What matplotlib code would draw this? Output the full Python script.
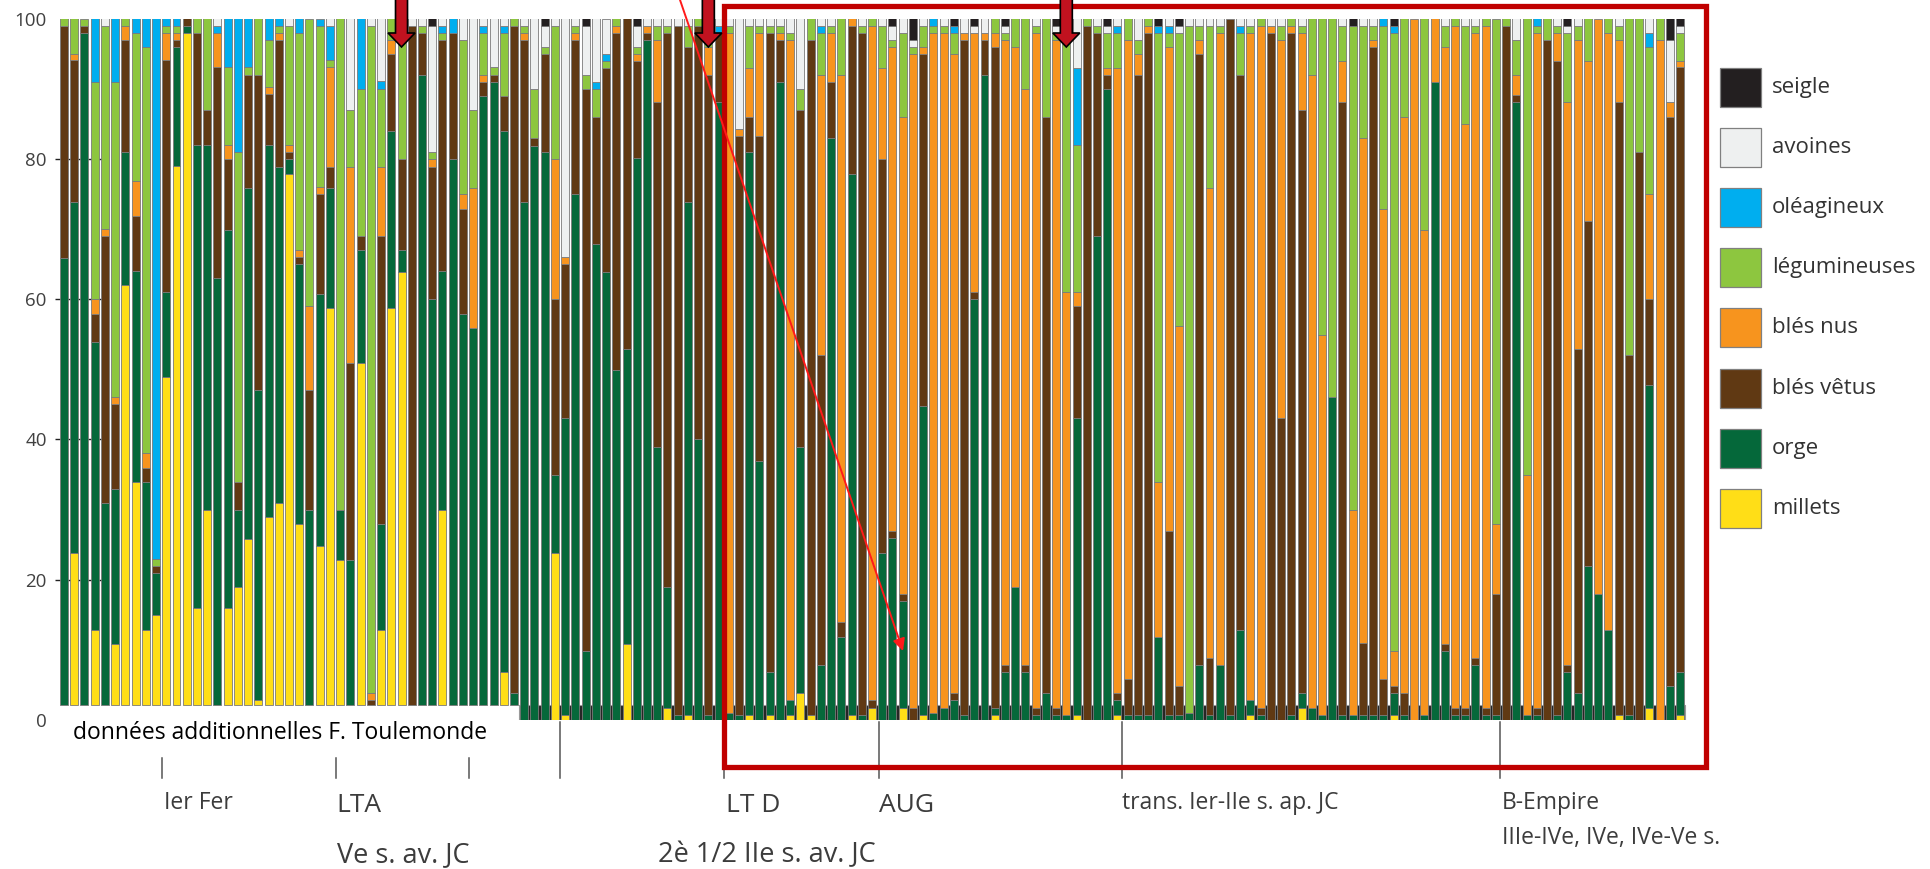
import numpy as np
import matplotlib
matplotlib.use('Agg')
import matplotlib.pyplot as plt
from matplotlib.patches import Rectangle, FancyArrow, FancyArrowPatch

W, H = 1931, 869

# Share of each crop in each sample (%).
# The first 45 samples are the "données additionnelles F. Toulemonde".
n_extra = 45

millets = [0, 21.7, 0, 10.8, 0, 8.7, 59.9, 31.8, 10.8, 12.8,
           46.8, 76.8, 95.9, 13.8, 27.8, 0, 13.8, 16.8, 23.7, 0.7,
           26.8, 28.8, 75.7, 25.8, 0, 22.7, 56.7, 20.7, 0, 48.8,
           0, 10.8, 56.7, 61.8, 0, 0, 0, 27.8, 0, 0,
           0, 0, 0, 4.7, 0,
           0, 0, 0, 23.8, 0.7, 0, 0, 0, 0, 0,
           10.8, 0, 0, 0, 1.7, 0, 0.7, 0, 0, 0,
           0, 0, 0.7, 0, 0.7, 0, 0.7, 3.8, 0.7, 0,
           0, 0, 0.7, 0, 1.7, 0, 0, 1.7, 0, 0.7,
           0, 0, 0, 0, 0, 0, 0.7, 0, 0, 0,
           0, 0, 0, 0, 0.7, 0, 0, 0, 0.7, 0,
           0, 0, 0, 0, 0, 0, 0, 0, 0, 0,
           0, 0.7, 0, 0, 0, 0, 1.7, 0, 0, 0,
           0, 0, 0, 0, 0, 0.7, 0, 0, 0, 0,
           0, 0, 0, 0, 0, 0, 0, 0, 0, 0,
           0, 0, 0, 0, 0, 0, 0, 0.7, 0, 0,
           1.7, 0, 0, 0.7]

orge = [63.7, 50.1, 96, 41, 28.8, 22.1, 19, 30.1, 21, 6,
        12.1, 17, 1, 66.1, 52.1, 60.9, 54, 11, 50.1, 44.2,
        53.1, 48, 2.2, 37.1, 27.8, 36, 17.1, 7.1, 20.7, 16.1,
        0, 15, 25.2, 3.1, 0, 89.8, 57.9, 34.1, 77.9, 55.8,
        53.8, 86.9, 88.9, 77.2, 1.7,
        73.9, 81.8, 81, 11.1, 42.3, 75, 9.8, 67.9, 63.9, 49.9,
        42.1, 80, 97, 38.9, 17.2, 0.7, 73.2, 40, 0.7, 88.1,
        1, 0.7, 80.3, 36.9, 6.1, 90.9, 2.1, 35.1, 0, 7.8,
        83, 11.8, 77.2, 0.7, 0, 23.8, 26, 15.2, 0, 44.1,
        1, 1.7, 2.8, 0.7, 60, 91.9, 1, 6.8, 18.9, 6.8,
        0.7, 3.8, 0.7, 0.7, 42.3, 0, 69, 90, 2.1, 0.7,
        0.7, 0.7, 11.8, 0.7, 0.7, 1, 7.8, 0.7, 7.8, 0.7,
        12.9, 2.1, 0.7, 0, 0, 0.7, 2.1, 1.7, 0.7, 46,
        0.7, 0.7, 0.7, 0.7, 0.7, 3.1, 0.7, 0, 0.7, 90.9,
        9.8, 0.7, 0.7, 7.8, 0.7, 0.7, 0, 88.1, 0.7, 0.7,
        0, 0.7, 6.8, 3.8, 21.9, 17.9, 12.9, 0, 0.7, 0,
        46.1, 0, 4.8, 6.1]

bles_vetus = [33.2, 20.2, 1, 4, 38.1, 12.1, 16, 7.9, 2, 1,
              33.1, 1, 1, 16, 5, 30.1, 10.1, 4, 16.1, 45,
              7.2, 18.1, 1, 1, 17.1, 14.2, 3, 0, 28.1, 2,
              0.7, 41.1, 11, 13, 96.9, 6.1, 18.9, 33, 18, 15,
              0, 2, 1, 5, 95.2,
              23.1, 1.2, 14, 25.1, 22, 22, 80.2, 18.1, 29, 48.1,
              47.1, 13.9, 1, 49.2, 79.1, 98.3, 22.1, 59, 91.2, 9.9,
              0, 82.5, 5, 46.3, 91.2, 6.1, 0, 48.1, 96.3, 44.3,
              7.9, 2.1, 21.1, 97.3, 1.1, 56.2, 1, 1, 1.7, 50.2,
              0, 0, 1, 96.3, 1, 5.1, 94.3, 1, 0, 1,
              1, 82.2, 1, 0, 16, 99, 29, 1.9, 1, 5.1,
              91.2, 97.3, 0, 26.3, 4.1, 0, 87.2, 8.1, 0, 99.3,
              79, 0, 1, 98, 43, 97.3, 83.2, 0, 0, 0,
              87.4, 0, 10.3, 95.3, 5.1, 1, 3.1, 0, 0, 0,
              1, 1, 1, 1, 1, 17.2, 99, 1, 0, 1,
              97, 93.2, 1, 49.1, 49.2, 0, 0, 87.4, 51.4, 81,
              12.2, 0, 81.2, 86.3]

bles_nus = [0, 0.9, 0, 2.1, 1, 1, 2, 5, 2.1, 0,
            3.9, 1, 0, 0, 0, 4.9, 2, 0, 0, 0,
            1, 1, 1, 1, 12, 1, 14.2, 0, 28, 0,
            1, 9.9, 2, 0, 0, 0, 1.1, 0, 0, 2.1,
            20, 1, 0, 0, 0,
            1, 0, 0, 20, 1, 1, 0, 0, 0, 1,
            0, 1, 1, 8.9, 0, 0, 0, 0, 4.1, 0,
            97, 1, 6.9, 14.8, 0, 1, 94.2, 0, 0, 39.8,
            7.1, 78, 1, 0, 96.2, 12.9, 69, 68.1, 93.3, 1,
            97, 96.3, 91.2, 1, 37, 1, 2, 89.2, 77.1, 82.2,
            96.3, 0, 95.3, 60.3, 2, 0, 0, 1, 89.1, 91.2,
            3.1, 1, 22.1, 69, 51.3, 0, 2, 67.1, 90.2, 0,
            0, 95.2, 97.3, 1, 54, 1, 11, 90.2, 54.2, 0,
            5.8, 29.2, 72, 1, 67.1, 5, 82.2, 100, 69.2, 9.1,
            85.2, 97.3, 83.3, 89.2, 97.3, 10, 0, 2.9, 34.2, 96.3,
            0, 4.1, 80.3, 44.1, 22.8, 82.1, 85.1, 8.9, 0, 0,
            15, 97, 2.1, 0.8]

legumineuses = [1, 5, 1, 30.9, 29, 44.9, 1, 21.1, 58, 1,
                1, 1, 0, 2, 13, 0, 11.1, 47.1, 1.1, 8,
                6.8, 1, 17, 31, 41, 23.1, 1, 70.1, 8.1, 21,
                95.2, 11.1, 3, 20, 0, 1, 1, 1, 0, 22,
                11.1, 6, 1.1, 9, 1,
                1, 7, 1, 19, 0, 1, 1.9, 4, 1, 1,
                0, 1, 0, 2, 1, 0, 3, 1, 3, 0,
                1, 0, 6.1, 1, 1, 1, 1, 3, 3, 6.1,
                1, 8.1, 0, 1, 1, 6.1, 1, 12, 1, 3,
                1, 1, 3, 0, 0, 0, 2, 1, 4, 10,
                1, 14, 1, 38, 21, 1, 1, 5.1, 5.1, 3,
                2, 1, 64.1, 2, 41.9, 98, 2, 23.1, 1, 0,
                6.1, 1, 1, 0, 2, 1, 1, 8.1, 45.1, 54,
                5.1, 69.1, 16, 2, 26.1, 88.2, 14, 0, 30.1, 0,
                3, 1, 14, 1, 1, 72.1, 1, 5, 65.1, 1,
                3, 1, 9.9, 2, 6.1, 0, 2, 2, 47.9, 19,
                21, 3, 0, 4.1]

oleagineux = [0, 0, 0, 9.1, 0, 9.1, 0, 2, 4, 77,
              1, 1, 0, 0, 0, 1, 6.9, 19, 6.9, 0,
              3, 1, 0, 2, 0, 1, 4.9, 0, 0, 10,
              0, 1.1, 0, 0, 0, 0, 0, 1, 2, 0,
              0, 1, 0, 1, 0,
              0, 0, 0, 0, 0, 0, 0, 1, 1.1, 0,
              0, 0, 0, 0, 0, 0, 0, 0, 0, 1,
              0, 0, 0, 0, 0, 0, 0, 0, 0, 1,
              0, 0, 0, 0, 0, 0, 0, 0, 0, 0,
              1, 0, 1, 0, 0, 0, 0, 0, 0, 0,
              0, 0, 0, 0, 10.9, 0, 0, 0, 1, 0,
              0, 0, 1, 1, 0, 0, 0, 0, 0, 0,
              1, 0, 0, 0, 0, 0, 0, 0, 0, 0,
              0, 0, 0, 0, 1, 1, 0, 0, 0, 0,
              0, 0, 0, 0, 0, 0, 0, 0, 0, 1,
              0, 0, 0, 0, 0, 0, 0, 0, 0, 0,
              2, 0, 0, 0]

avoines = [0, 0, 0, 0, 1, 0, 0, 0, 0, 0,
           0, 0, 0, 0, 0, 1, 0, 0, 0, 0,
           0, 0, 1, 0, 0, 0, 1, 0, 13, 0,
           1, 8.9, 0, 0, 1, 1, 18, 1, 0, 3,
           13, 1, 6.9, 1, 0,
           1, 10, 3, 1, 34, 1, 7.1, 9, 5, 0,
           0, 3, 1, 1, 1, 1, 1, 0, 1, 1,
           1, 15.8, 1, 1, 1, 1, 2, 10, 0, 1,
           1, 0, 0, 1, 0, 1, 2, 2, 1, 1,
           0, 1, 0, 2, 1, 2, 0, 1, 0, 0,
           1, 0, 1, 1, 7.1, 0, 1, 1, 1, 0,
           3, 0, 0, 1, 1, 1, 1, 1, 1, 0,
           1, 1, 0, 1, 1, 0, 1, 0, 0, 0,
           1, 0, 1, 1, 0, 0, 0, 0, 0, 0,
           1, 0, 1, 1, 0, 0, 0, 3, 0, 0,
           0, 1, 1, 1, 0, 0, 0, 1, 0, 0,
           2, 0, 8.9, 1]

seigle = [0, 0, 0, 0, 0, 0, 0, 0, 0, 0,
          0, 0, 0, 0, 0, 0, 0, 0, 0, 0,
          0, 0, 0, 0, 0, 0, 0, 0, 0, 0,
          0, 0, 0, 0, 0, 0, 1, 0, 0, 0,
          0, 0, 0, 0, 0,
          0, 0, 1, 0, 0, 0, 1, 0, 0, 0,
          0, 1, 0, 0, 0, 0, 0, 0, 0, 0,
          0, 0, 0, 0, 0, 0, 0, 0, 0, 0,
          0, 0, 0, 0, 0, 0, 1, 0, 3, 0,
          0, 0, 1, 0, 1, 0, 0, 1, 0, 0,
          0, 0, 1, 0, 0, 0, 0, 1, 0, 0,
          0, 0, 1, 0, 1, 0, 0, 0, 0, 0,
          0, 0, 0, 0, 0, 0, 0, 0, 0, 0,
          0, 1, 0, 0, 0, 1, 0, 0, 0, 0,
          0, 0, 0, 0, 0, 0, 0, 0, 0, 0,
          0, 0, 1, 0, 0, 0, 0, 0, 0, 0,
          0, 0, 3, 1]

# stacking order, bottom to top
categories = ['millets', 'orge', 'blés vêtus', 'blés nus',
              'légumineuses', 'oléagineux', 'avoines', 'seigle']
colors = ['#ffde17', '#05683a', '#603913', '#f7941e',
          '#8dc63f', '#00aeef', '#eef0f0', '#231f20']

# period labels under the bars
periods_small = ['Ier Fer', 'trans. Ier-IIe s. ap. JC', 'B-Empire', 'IIIe-IVe, IVe, IVe-Ve s.']
periods_big = ['LTA', 'Ve s. av. JC', 'LT D', 'AUG', '2è 1/2 IIe s. av. JC']

plt.rcParams['font.family'] = ['Open Sans', 'DejaVu Sans']

fig = plt.figure(figsize=(W / 100, H / 100), dpi=100)
fig.patch.set_facecolor('white')

# main axes placed in image pixels
ax = fig.add_axes([55 / W, 1 - 720 / H, (1690 - 55) / W, (720 - 18.5) / H])

series = np.array([millets, orge, bles_vetus, bles_nus,
                   legumineuses, oleagineux, avoines, seigle], dtype=float)
n = series.shape[1]
x = np.arange(n)
shares = series / series.sum(axis=0)

extra_base = 2.1  # the added samples sit a little higher than the main series
span = np.where(x < n_extra, 100 - extra_base, 100.0)
bottom = np.where(x < n_extra, extra_base, 0.0)
for vals, name, col in zip(shares, categories, colors):
    h = vals * span
    ax.bar(x, h, bottom=bottom, width=0.78, color=col, edgecolor='#7a7a7a',
           linewidth=np.where(h > 0, 0.6, 0), zorder=2, label=name)
    bottom = bottom + h

# dark band at the foot of the main series
ax.add_patch(Rectangle((n_extra - 0.5, 0), n - n_extra, extra_base,
                       facecolor='#262626', edgecolor='#9a9a9a', lw=0.8, zorder=1))

ax.set_xlim(-0.88, n - 1 + 0.98)
ax.set_ylim(0, 100)
ax.set_xticks([])
ax.set_yticks(range(0, 101, 20))
ax.tick_params(axis='y', direction='in', length=34, width=1.0, color='#222222',
               pad=6, labelsize=13.5, labelcolor='#404040')
ax.set_axisbelow(True)
for t in (ax.yaxis.get_major_ticks()[0], ax.yaxis.get_major_ticks()[-1]):
    t.tick1line.set_visible(False)
for s in ax.spines.values():
    s.set_visible(False)

# overlay in image pixel coordinates for the annotations
ov = fig.add_axes([0, 0, 1, 1], zorder=5)
ov.set_xlim(0, W)
ov.set_ylim(H, 0)
ov.axis('off')
ov.patch.set_alpha(0)


def bar_px(i):
    return ax.transData.transform((i, 0))[0]


# red frame around the main series
ov.add_patch(Rectangle((724, 6), 982, 761, fill=False, ec='#c00000', lw=3.8, zorder=6))

# thick arrows pointing at a few samples
for i in (33, 63, 98):
    ov.add_patch(FancyArrow(bar_px(i), -6, 0, 53, width=12, head_width=27, head_length=14,
                            length_includes_head=True, fc='#c1121f', ec='black', lw=1.2, zorder=7))

# thin red arrow
ov.add_patch(FancyArrowPatch((679, -3), (903, 651), arrowstyle='-|>', mutation_scale=18,
                             color='#ff1a1a', lw=1.4, shrinkA=0, shrinkB=0, zorder=7))

# period markers
for xp in (162, 336, 469):
    ov.plot([xp, xp], [758, 778], color='#555555', lw=1.1)
for xp in (560, 724, 879, 1122, 1500):
    ov.plot([xp, xp], [722, 778], color='#555555', lw=1.1)

grey = '#3c3c3c'
ov.text(73, 733, 'données additionnelles F. Toulemonde', fontsize=16.5, color='black', va='center')
ov.text(164, 803, periods_small[0], fontsize=16.5, color=grey, va='center')
ov.text(1122, 803, periods_small[1], fontsize=16.5, color=grey, va='center')
ov.text(1502, 803, periods_small[2], fontsize=16.5, color=grey, va='center')
ov.text(1502, 838, periods_small[3], fontsize=16.5, color=grey, va='center')
ov.text(336, 805, periods_big[0], fontsize=19, color=grey, va='center')
ov.text(337, 855, periods_big[1], fontsize=19.5, color=grey, va='center')
ov.text(726, 805, periods_big[2], fontsize=19, color=grey, va='center')
ov.text(879, 805, periods_big[3], fontsize=19, color=grey, va='center')
ov.text(658, 855, periods_big[4], fontsize=19.5, color=grey, va='center')

# legend, top to bottom
for k, (name, col) in enumerate(zip(categories[::-1], colors[::-1])):
    yc = 87 + 60.2 * k
    ov.add_patch(Rectangle((1720, yc - 19.5), 41, 39, fc=col, ec='#808080', lw=0.9))
    ov.text(1772, yc, name, fontsize=16, color='#333333', va='center')

fig.savefig('out.png', dpi=100)
